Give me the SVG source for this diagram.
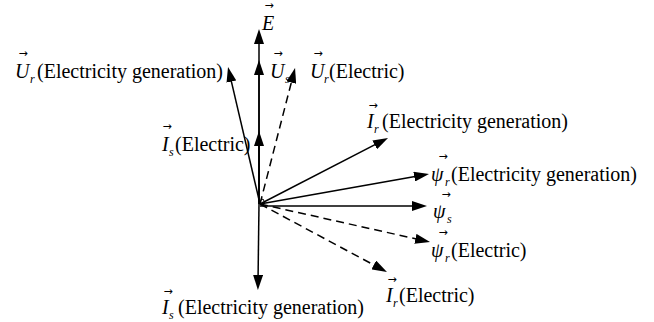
<svg xmlns="http://www.w3.org/2000/svg" width="654" height="322" viewBox="0 0 654 322">
<style>
.t{font-family:"Liberation Serif",serif;font-size:20px;fill:#000}
.v{font-family:"Liberation Serif",serif;font-size:20px;font-style:italic;fill:#000}
.sub{font-family:"Liberation Serif",serif;font-size:12px;font-style:italic;fill:#000}
.ar{font-family:"DejaVu Sans",sans-serif;font-size:11px;fill:#000;text-anchor:middle}
.ln{stroke:#000;stroke-width:1.5;fill:none;marker-end:url(#ah)}
.dash{stroke-dasharray:8 5}
</style>
<defs>
<marker id="ah" markerUnits="userSpaceOnUse" markerWidth="15" markerHeight="10" viewBox="0 0 15 10" refX="8" refY="5" orient="auto">
<path d="M0,0 L15,5 L0,10 z" fill="#000"/>
</marker>
</defs>
<rect width="654" height="322" fill="#fff"/>
<g id="connectors">
<line class="ln" x1="259" y1="204" x2="259" y2="36"/>
<line class="ln" x1="259" y1="204" x2="259" y2="67"/>
<line class="ln" x1="259" y1="204" x2="259" y2="138"/>
<line class="ln" x1="259" y1="204" x2="258" y2="283"/>
<line class="ln" x1="260" y1="204" x2="229.6" y2="73.8"/>
<line class="ln dash" x1="260" y1="204" x2="293.3" y2="74.8"/>
<line class="ln" x1="260" y1="204" x2="381.8" y2="141.2"/>
<line class="ln" x1="260" y1="204" x2="422.1" y2="175.2"/>
<line class="ln" x1="260" y1="206" x2="420" y2="206"/>
<line class="ln dash" x1="260" y1="204" x2="423.2" y2="240.5"/>
<line class="ln dash" x1="260" y1="204" x2="380.8" y2="268.7"/>
<polygon points="259,201 263,199 265,203 261,205" fill="none" stroke="#000" stroke-width="1"/>
</g>
<g id="E">
<text class="ar" x="269" y="9">→</text>
<text class="v" x="262" y="30">E</text>
</g>
<g id="Us">
<text class="ar" x="278" y="57">→</text>
<text class="v" x="270" y="78">U</text>
<text class="sub" x="285" y="83">s</text>
</g>
<g id="Ur-electric">
<text class="ar" x="318" y="57">→</text>
<text class="v" x="310" y="78">U</text>
<text class="sub" x="324" y="83">r</text>
<text class="t" x="329" y="78">(Electric)</text>
</g>
<g id="Ur-generation">
<text class="ar" x="23" y="57">→</text>
<text class="v" x="15" y="78">U</text>
<text class="sub" x="30" y="83">r</text>
<text class="t" x="37" y="78">(Electricity generation)</text>
</g>
<g id="Is-electric">
<text class="ar" x="167" y="130">→</text>
<text class="v" x="162" y="151">I</text>
<text class="sub" x="169" y="156">s</text>
<text class="t" x="175" y="151">(Electric)</text>
</g>
<g id="Ir-generation">
<text class="ar" x="373" y="109">→</text>
<text class="v" x="367" y="128">I</text>
<text class="sub" x="374" y="133">r</text>
<text class="t" x="382" y="128">(Electricity generation)</text>
</g>
<g id="psir-generation">
<text class="ar" x="443" y="160">→</text>
<text class="v" x="431" y="181">ψ</text>
<text class="sub" x="445" y="186">r</text>
<text class="t" x="451" y="181">(Electricity generation)</text>
</g>
<g id="psis">
<text class="ar" x="446" y="198">→</text>
<text class="v" x="433" y="218">ψ</text>
<text class="sub" x="447" y="223">s</text>
</g>
<g id="psir-electric">
<text class="ar" x="443" y="236">→</text>
<text class="v" x="431" y="257">ψ</text>
<text class="sub" x="445" y="262">r</text>
<text class="t" x="451" y="257">(Electric)</text>
</g>
<g id="Ir-electric">
<text class="ar" x="392" y="283">→</text>
<text class="v" x="386" y="302">I</text>
<text class="sub" x="393" y="307">r</text>
<text class="t" x="399" y="302">(Electric)</text>
</g>
<g id="Is-generation">
<text class="ar" x="168" y="295">→</text>
<text class="v" x="162" y="314">I</text>
<text class="sub" x="169" y="319">s</text>
<text class="t" x="178" y="314">(Electricity generation)</text>
</g>
</svg>
